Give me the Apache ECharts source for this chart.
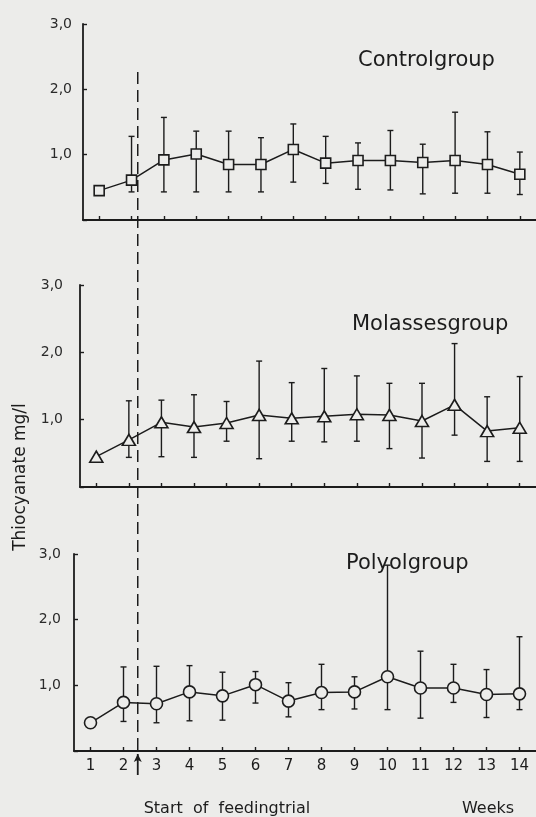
<!DOCTYPE html>
<html>
<head>
<meta charset="utf-8">
<title>Thiocyanate</title>
<script src="https://cdn.jsdelivr.net/npm/echarts@6.0.0/dist/echarts.min.js"></script>
<style>
    html, body { margin: 0; padding: 0; background: #ececea; }
    #chart { width: 536px; height: 817px; }
</style>
</head>
<body>
<div id="chart"></div>
<script>
// weeks on the x axis
var weeks = ['1', '2', '3', '4', '5', '6', '7', '8', '9', '10', '11', '12', '13', '14'];
var yTicks = [0, 1, 2, 3];
var feedStart = 2.3; // start of feeding trial, in weeks

// Controlgroup
var controlMean = [0.45, 0.61, 0.92, 1.01, 0.85, 0.85, 1.08, 0.87, 0.91, 0.91, 0.88, 0.91, 0.85, 0.70];
var controlLow = [null, 0.43, 0.43, 0.43, 0.43, 0.43, 0.58, 0.56, 0.47, 0.46, 0.40, 0.41, 0.41, 0.39];
var controlHigh = [null, 1.28, 1.57, 1.36, 1.36, 1.26, 1.47, 1.28, 1.18, 1.37, 1.16, 1.65, 1.35, 1.04];

// Molassesgroup
var molassesMean = [0.45, 0.70, 0.96, 0.89, 0.95, 1.07, 1.02, 1.05, 1.08, 1.07, 0.98, 1.22, 0.83, 0.88];
var molassesLow = [null, 0.44, 0.45, 0.44, 0.68, 0.42, 0.68, 0.67, 0.68, 0.57, 0.43, 0.77, 0.38, 0.38];
var molassesHigh = [null, 1.28, 1.29, 1.37, 1.27, 1.87, 1.55, 1.76, 1.65, 1.54, 1.54, 2.13, 1.34, 1.64];

// Polyolgroup
var polyolMean = [0.43, 0.74, 0.72, 0.90, 0.84, 1.01, 0.76, 0.89, 0.90, 1.13, 0.96, 0.96, 0.86, 0.87];
var polyolLow = [null, 0.45, 0.43, 0.46, 0.47, 0.73, 0.52, 0.63, 0.64, 0.63, 0.50, 0.74, 0.51, 0.63];
var polyolHigh = [null, 1.28, 1.29, 1.30, 1.20, 1.21, 1.04, 1.32, 1.13, 2.83, 1.52, 1.32, 1.24, 1.74];

var INK = '#1c1c1c';
var BG = '#ececea';
var FONT = 'DejaVu Sans';

var panels = [
    {name: 'Controlgroup', mean: controlMean, low: controlLow, high: controlHigh,
        symbol: 'rect', symbolSize: 10, grid: {left: 83, top: 24, width: 469, height: 196},
        labelMargin: 11, title: {left: 353, top: 45}},
    {name: 'Molassesgroup', mean: molassesMean, low: molassesLow, high: molassesHigh,
        symbol: 'triangle', symbolSize: [13, 11], grid: {left: 80, top: 285, width: 469, height: 202},
        labelMargin: 17, title: {left: 347, top: 309}},
    {name: 'Polyolgroup', mean: polyolMean, low: polyolLow, high: polyolHigh,
        symbol: 'circle', symbolSize: 12, grid: {left: 74, top: 554, width: 470, height: 197},
        labelMargin: 13, title: {left: 341, top: 548}}
];

function renderErrorBar(params, api) {
    var lowPt = api.coord([api.value(0), api.value(1)]);
    var highPt = api.coord([api.value(0), api.value(2)]);
    var half = 3;
    var style = {stroke: INK, lineWidth: 1.4, fill: null};
    return {
        type: 'group',
        children: [
            {type: 'line', shape: {x1: lowPt[0], y1: lowPt[1], x2: highPt[0], y2: highPt[1]}, style: style},
            {type: 'line', shape: {x1: highPt[0] - half, y1: highPt[1], x2: highPt[0] + half, y2: highPt[1]}, style: style},
            {type: 'line', shape: {x1: lowPt[0] - half, y1: lowPt[1], x2: lowPt[0] + half, y2: lowPt[1]}, style: style}
        ]
    };
}

var grids = [], xAxes = [], yAxes = [], series = [], titles = [];

panels.forEach(function (p, i) {
    grids.push(p.grid);
    titles.push({
        text: p.name,
        left: p.title.left,
        top: p.title.top,
        textStyle: {color: INK, fontSize: 21, fontWeight: 'normal', fontFamily: FONT}
    });
    xAxes.push({
        gridIndex: i,
        type: 'category',
        data: weeks,
        boundaryGap: true,
        axisLine: {show: true, lineStyle: {color: INK, width: 1.8}},
        axisTick: {show: true, inside: true, alignWithLabel: true, length: 4, lineStyle: {color: INK, width: 1.4}},
        axisLabel: {show: i === 2, margin: 8, color: INK, fontSize: 15, fontFamily: FONT},
        splitLine: {show: false}
    });
    yAxes.push({
        gridIndex: i,
        type: 'value',
        min: yTicks[0],
        max: yTicks[yTicks.length - 1],
        interval: 1,
        axisLine: {show: true, lineStyle: {color: INK, width: 1.8}},
        axisTick: {show: true, inside: true, length: 4, lineStyle: {color: INK, width: 1.4}},
        axisLabel: {
            margin: p.labelMargin,
            color: '#2a2a2a',
            fontSize: 14,
            fontFamily: FONT,
            formatter: function (v) {
                return v === 0 ? '' : v.toFixed(1).replace('.', ',');
            }
        },
        splitLine: {show: false}
    });

    var bars = [];
    for (var k = 0; k < weeks.length; k++) {
        if (p.low[k] != null) {
            bars.push([k, p.low[k], p.high[k]]);
        }
    }
    series.push({
        type: 'custom',
        xAxisIndex: i,
        yAxisIndex: i,
        renderItem: renderErrorBar,
        encode: {x: 0, y: [1, 2]},
        data: bars,
        z: 2,
        silent: true
    });
    series.push({
        type: 'line',
        xAxisIndex: i,
        yAxisIndex: i,
        data: p.mean,
        symbol: p.symbol,
        symbolSize: p.symbolSize,
        showAllSymbol: true,
        lineStyle: {color: INK, width: 1.5},
        itemStyle: {color: BG, borderColor: INK, borderWidth: 1.6},
        z: 3,
        silent: true
    });
});

// overlay for the feeding trial marker (dashed part, then arrow under the axis)
grids.push({left: 79, top: 67, width: 469, height: 683});
grids.push({left: 79, top: 754, width: 469, height: 21});
[3, 4].forEach(function (g) {
    xAxes.push({gridIndex: g, type: 'value', min: 0.5, max: 14.5, show: false});
    yAxes.push({gridIndex: g, type: 'value', min: 0, max: 1, show: false});
});
series.push({
    type: 'line',
    xAxisIndex: 3,
    yAxisIndex: 3,
    data: [[feedStart, 0], [feedStart, 1]],
    symbol: 'none',
    lineStyle: {color: INK, width: 1.5, type: [12, 6]},
    silent: true
});
series.push({
    type: 'line',
    xAxisIndex: 4,
    yAxisIndex: 4,
    data: [[feedStart, 0], [feedStart, 1]],
    symbol: function (value, params) {
        return params.dataIndex === 1 ? 'arrow' : 'none';
    },
    symbolSize: [6, 8],
    showAllSymbol: true,
    itemStyle: {color: INK},
    lineStyle: {color: INK, width: 1.8},
    silent: true
});

var chart = echarts.init(document.getElementById('chart'));
chart.setOption({
    backgroundColor: BG,
    animation: false,
    title: titles,
    grid: grids,
    xAxis: xAxes,
    yAxis: yAxes,
    series: series,
    graphic: [
        {
            type: 'text',
            x: 21,
            y: 477,
            rotation: Math.PI / 2,
            style: {text: 'Thiocyanate mg/l', fill: INK, font: '17px ' + FONT, textAlign: 'center', textVerticalAlign: 'middle'}
        },
        {
            type: 'text',
            x: 227,
            y: 809,
            style: {text: 'Start  of  feedingtrial', fill: INK, font: '16px ' + FONT, textAlign: 'center', textVerticalAlign: 'middle'}
        },
        {
            type: 'text',
            x: 488,
            y: 809,
            style: {text: 'Weeks', fill: INK, font: '16px ' + FONT, textAlign: 'center', textVerticalAlign: 'middle'}
        }
    ]
});
</script>
</body>
</html>
